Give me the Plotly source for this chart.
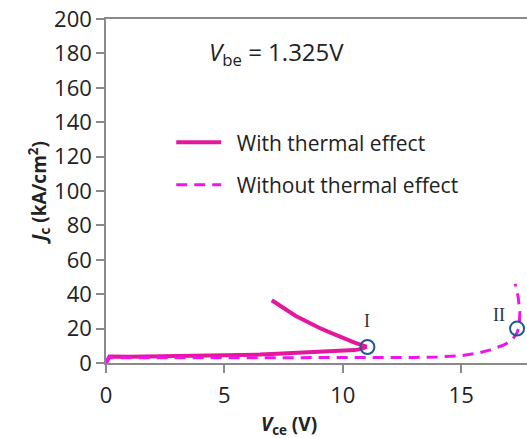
import plotly.graph_objects as go

# Collector current density vs collector-emitter voltage at Vbe = 1.325 V
# With thermal effect: lower branch up to the snapback point I, then the upper branch
vce_thermal = [0, 0.15, 1, 2, 3, 4, 5, 6, 6.5, 7, 8, 9, 10, 10.5, 10.8, 11.0,
               10.5, 10.0, 9.5, 9.0, 8.5, 8.0, 7.5, 7.0]
jc_thermal = [0, 3.8, 3.7, 3.9, 3.8, 4.0, 4.2, 4.6, 4.9, 5.2, 5.8, 6.3, 7.0, 7.5, 8.2, 9.5,
              11.8, 14.4, 17.5, 20.5, 24.0, 27.5, 32.0, 36.5]

# Without thermal effect: flat until breakdown near point II
vce_nothermal = [0, 0.1, 1, 3, 5, 7, 9, 11, 13, 14, 15, 15.65, 16.2, 16.77, 17.0, 17.2,
                 17.34, 17.45, 17.48, 17.4, 17.28]
jc_nothermal = [0, 3.0, 3.0, 3.0, 3.0, 3.0, 3.0, 3.0, 3.2, 3.5, 4.2, 5.6, 7.5, 10.3, 12.0, 14.4,
                17.0, 21.0, 30.0, 39.0, 46.0]

# Marked operating points
point_names = ["I", "II"]
point_vce = [11.04, 17.36]
point_jc = [9.3, 20.0]

x_ticks = [0, 5, 10, 15]
y_ticks = [0, 20, 40, 60, 80, 100, 120, 140, 160, 180, 200]

FONT = "Open Sans"
SOLID = "#E3189C"
DASHED = "#F014EC"
RING = "#1E5D88"
AXIS = "#8A8A8A"
INK = "#222222"

fig = go.Figure()

fig.add_trace(go.Scatter(
    x=vce_thermal, y=jc_thermal, mode="lines", name="\u2002With thermal effect",
    line=dict(color=SOLID, width=4), legendgroup="a",
))
fig.add_trace(go.Scatter(
    x=vce_nothermal, y=jc_nothermal, mode="lines", name="\u2002Without thermal effect",
    line=dict(color=DASHED, width=3, dash="11px,7px"), legendgroup="b",
))
fig.add_trace(go.Scatter(
    x=point_vce, y=point_jc, mode="markers", showlegend=False,
    marker=dict(symbol="circle-open", size=14, color=RING, line=dict(width=2, color=RING)),
))

# Roman labels above the marked points
label_offsets = [(0, 15), (-0.75, 8)]
for name, vx, jy, (dx, dy) in zip(point_names, point_vce, point_jc, label_offsets):
    fig.add_annotation(
        x=vx + dx, y=jy + dy, xref="x", yref="y", text=name, showarrow=False,
        font=dict(family="Liberation Serif", size=18, color="#333333"),
    )

fig.add_annotation(
    x=0.24, y=0.90, xref="paper", yref="paper", xanchor="left", yanchor="middle",
    text="<i>V</i><sub>be</sub> = 1.325V", showarrow=False,
    font=dict(family=FONT, size=24, color=INK),
)

fig.add_annotation(
    x=0.435, y=-0.18, xref="paper", yref="paper", xanchor="center", yanchor="middle",
    text="<b><i>V</i><sub>ce</sub> (V)</b>", showarrow=False,
    font=dict(family=FONT, size=19, color=INK),
)

fig.update_layout(
    width=527, height=438,
    margin=dict(l=106, r=0, t=19, b=75),
    paper_bgcolor="white", plot_bgcolor="white",
    font=dict(family=FONT, color=INK),
    showlegend=True,
    legend=dict(
        x=0.155, y=0.70, xanchor="left", yanchor="top",
        bgcolor="rgba(0,0,0,0)", borderwidth=0,
        font=dict(family=FONT, size=21, color=INK),
        traceorder="grouped", tracegroupgap=12, itemwidth=45,
    ),
    xaxis=dict(
        range=[0, 17.78], tickvals=x_ticks, showgrid=False, zeroline=False,
        showline=True, linecolor=AXIS, linewidth=1.5, mirror=True,
        ticks="outside", ticklen=8, tickcolor=AXIS, tickwidth=1.5,
        ticklabelstandoff=4,
        tickfont=dict(family=FONT, size=22, color=INK),
    ),
    yaxis=dict(
        range=[0, 200], tickvals=y_ticks, showgrid=False, zeroline=False,
        showline=True, linecolor=AXIS, linewidth=1.5,
        ticks="outside", ticklen=8, tickcolor=AXIS, tickwidth=1.5,
        tickfont=dict(family=FONT, size=22, color=INK),
        title=dict(text="<b><i>J</i><sub>c</sub> (kA/cm<sup>2</sup>)</b>",
                   font=dict(family=FONT, size=19, color=INK), standoff=1),
    ),
)

fig.write_html("out.html")
